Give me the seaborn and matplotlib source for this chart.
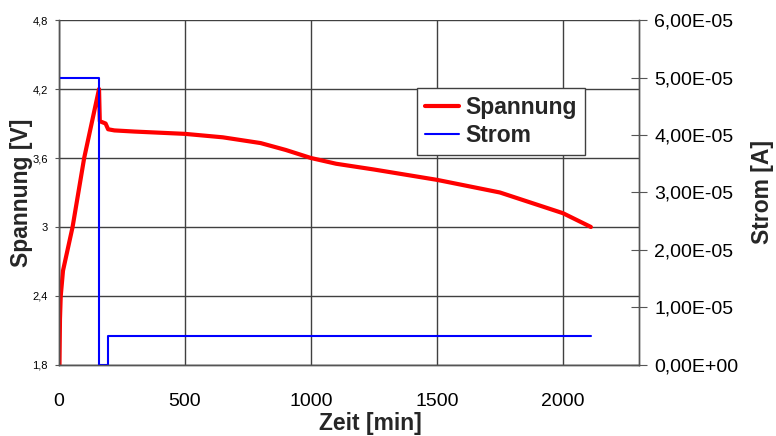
import matplotlib
matplotlib.use('Agg')
import matplotlib.pyplot as plt
import seaborn as sns
import pandas as pd
from matplotlib.ticker import FuncFormatter

# Values
zeit_u = [2, 4, 7, 16, 54, 100, 159, 162, 185, 195, 220, 300, 500, 650, 800, 900, 1000, 1100, 1250, 1500, 1750, 2000, 2111]
spannung = [1.8, 2.2, 2.4, 2.62, 3.0, 3.6, 4.2, 3.92, 3.9, 3.85, 3.84, 3.83, 3.81, 3.78, 3.73, 3.67, 3.6, 3.55, 3.5, 3.41, 3.3, 3.12, 3.0]

zeit_i = [0, 160, 160, 194, 194, 2111]
strom = [5.0e-5, 5.0e-5, 0.0, 0.0, 5.0e-6, 5.0e-6]

left_ticks = [1.8, 2.4, 3.0, 3.6, 4.2, 4.8]
right_ticks = [0, 1e-5, 2e-5, 3e-5, 4e-5, 5e-5, 6e-5]
x_ticks = [0, 500, 1000, 1500, 2000]

sns.set_style('white')
plt.rcParams['font.family'] = ['Liberation Sans', 'DejaVu Sans']

df_u = pd.DataFrame({'Zeit': zeit_u, 'Spannung': spannung})
df_i = pd.DataFrame({'Zeit': zeit_i, 'Strom': strom})

fig = plt.figure(figsize=(7.76, 4.36), dpi=100)
ax = fig.add_axes([0.076, 0.163, 0.7475, 0.791])
ax2 = ax.twinx()

sns.lineplot(data=df_u, x='Zeit', y='Spannung', ax=ax, color='#ff0000', lw=3, sort=False,
             estimator=None, label='Spannung', legend=False)
sns.lineplot(data=df_i, x='Zeit', y='Strom', ax=ax2, color='#0000ff', lw=1.5, sort=False,
             estimator=None, label='Strom', legend=False)

ax.set_xlim(0, 2302)
ax.set_ylim(1.8, 4.8)
ax2.set_ylim(0, 6e-5)

ax.set_xticks(x_ticks)
ax.set_yticks(left_ticks)
ax2.set_yticks(right_ticks)

ax.yaxis.set_major_formatter(FuncFormatter(lambda v, p: ('%g' % round(v, 1)).replace('.', ',')))
def sci_de(v, p):
    if v == 0:
        return '0,00E+00'
    return ('%.2E' % v).replace('.', ',')
ax2.yaxis.set_major_formatter(FuncFormatter(sci_de))

ax.grid(True, color='#404040', lw=1)
ax.set_axisbelow(True)

ax.spines['top'].set_visible(False)
ax2.spines['top'].set_visible(False)
for a in (ax, ax2):
    for sp in a.spines.values():
        sp.set_color('#555555')
        sp.set_linewidth(1)

ax.tick_params(axis='y', labelsize=8, length=3, direction='out', colors='#555555', labelcolor='black', pad=5)
ax.tick_params(axis='x', labelsize=14, length=4, direction='out', colors='#555555', labelcolor='black', pad=16)
ax2.tick_params(axis='y', labelsize=14, length=12, direction='inout', colors='#555555', labelcolor='black', pad=5)

ax.set_xlabel('Zeit [min]', fontsize=16.5, fontweight='bold')
ax.set_ylabel('Spannung [V]', fontsize=16.5, fontweight='bold')
ax2.set_ylabel('Strom [A]', fontsize=16.5, fontweight='bold')
ax.xaxis.set_label_coords(0.536, -0.136)
ax.yaxis.set_label_coords(-0.045, 0.5)
ax2.yaxis.set_label_coords(1.193, 0.5)

handles = ax.get_lines()[:1] + ax2.get_lines()[:1]
leg = fig.legend(handles, ['Spannung', 'Strom'], loc='upper left', bbox_to_anchor=(417 / 776, 1 - 88 / 436),
                 borderaxespad=0, frameon=True, fancybox=False, edgecolor='#404040', framealpha=1,
                 prop={'size': 16.5, 'weight': 'bold'}, handlelength=1.5, handletextpad=0.25,
                 borderpad=0.35, labelspacing=0.2)
leg.get_frame().set_linewidth(1)

fig.savefig('out.png', dpi=100)
